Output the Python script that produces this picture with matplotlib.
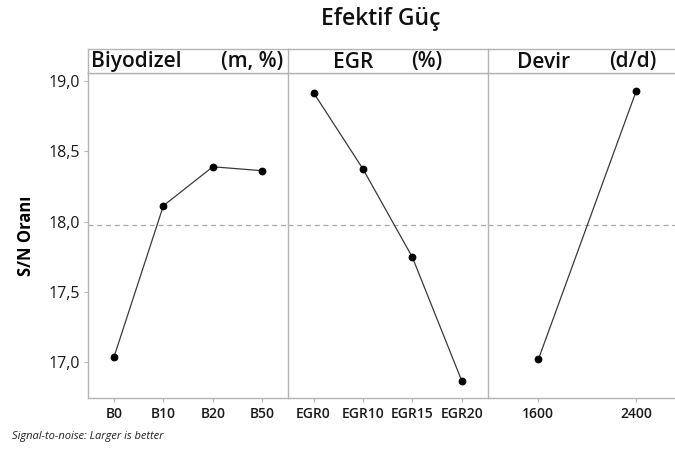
import matplotlib
matplotlib.use("Agg")
import matplotlib.pyplot as plt

plt.rcParams['font.family'] = ['Open Sans', 'DejaVu Sans']

# S/N degerleri (Larger is better)
biyodizel_lbl = ["B0", "B10", "B20", "B50"]
biyodizel_sn = [17.037, 18.113, 18.390, 18.362]
egr_lbl = ["EGR0", "EGR10", "EGR15", "EGR20"]
egr_sn = [18.917, 18.374, 17.746, 16.866]
devir_lbl = ["1600", "2400"]
devir_sn = [17.020, 18.929]

panels = [("Biyodizel", "(m, %)", biyodizel_lbl, biyodizel_sn),
          ("EGR", "(%)", egr_lbl, egr_sn),
          ("Devir", "(d/d)", devir_lbl, devir_sn)]

overall = sum(biyodizel_sn) / len(biyodizel_sn)

W, H = 675, 449
fig = plt.figure(figsize=(W / 100, H / 100), dpi=100)

edge = "#b4b4b4"
left0 = 88.3
pw = 199.6
top = 73.3
bot = 398.3
strip_top = 49.3
# header text positions (pixels)
txt_pos = [(91, 283), (333, 442), (517, 656)]

for i, (name, unit, lbls, vals) in enumerate(panels):
    x0 = left0 + i * pw
    ax = fig.add_axes([x0 / W, 1 - bot / H, pw / W, (bot - top) / H])
    xs = list(range(len(lbls)))
    ax.plot(xs, vals, color="#3a3a3a", lw=0.9, marker="o", ms=4.6,
            mfc="black", mec="black", zorder=3)
    ax.axhline(overall, color="#a8a8a8", lw=0.9, ls=(0, (4, 3)), zorder=1)
    ax.set_xlim(-0.52, len(lbls) - 0.48)
    ax.set_ylim(16.743, 19.055)
    ax.set_xticks(xs)
    ax.set_xticklabels(lbls, fontsize=10, fontweight="semibold", color="#1a1a1a")
    ax.set_yticks([17.0, 17.5, 18.0, 18.5, 19.0])
    if i == 0:
        ax.set_yticklabels(["17,0", "17,5", "18,0", "18,5", "19,0"],
                           fontsize=11.5, color="#1a1a1a")
        ax.set_ylabel("S/N Oranı", fontsize=12, fontweight="bold", labelpad=10)
        ax.tick_params(axis="y", length=3, color=edge, pad=3)
    else:
        ax.tick_params(axis="y", left=False, labelleft=False)
    ax.tick_params(axis="x", length=3, color=edge, pad=3)
    for s in ax.spines.values():
        s.set_color(edge)
        s.set_linewidth(1.0)
    ax.spines["right"].set_visible(False)

    sax = fig.add_axes([x0 / W, 1 - top / H, pw / W, (top - strip_top) / H])
    sax.set_xticks([])
    sax.set_yticks([])
    for s in sax.spines.values():
        s.set_color(edge)
        s.set_linewidth(1.0)
    sax.spines["right"].set_visible(False)
    a, b = txt_pos[i]
    fig.text(a / W, 1 - 62 / H, name, fontsize=15, fontweight="semibold",
             ha="left", va="center", color="#111111")
    fig.text(b / W, 1 - 62 / H, unit, fontsize=15, fontweight="semibold",
             ha="right", va="center", color="#111111")

fig.text(381 / W, 1 - 19 / H, "Efektif Güç", fontsize=16.5, fontweight="semibold",
         ha="center", va="center", color="#111111")
fig.text(12 / W, 1 - 437 / H, "Signal-to-noise: Larger is better", fontsize=8,
         style="italic", ha="left", va="center", color="#222222")

fig.savefig("out.png", dpi=100)
